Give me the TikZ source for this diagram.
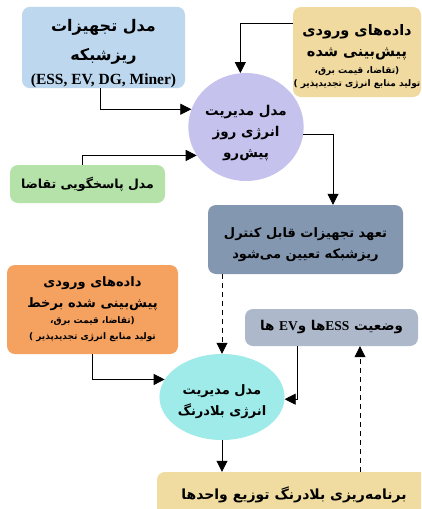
\documentclass[tikz,border=0pt]{standalone}
\usepackage{xcolor}
\usepackage{fontspec}
\setmainfont{Liberation Serif}
\newfontfamily\farsi[Script=Arabic]{DejaVu Sans}
\TeXXeTstate=1
\usepackage{tikz}
\usetikzlibrary{arrows.meta}
\usetikzlibrary{shapes.geometric}

\definecolor{devblue}{HTML}{BDD7EE}
\definecolor{fcyellow}{HTML}{F0DA9F}
\definecolor{damlilac}{HTML}{C6C2EE}
\definecolor{drgreen}{HTML}{B4E2A9}
\definecolor{comslate}{HTML}{8497B0}
\definecolor{rtorange}{HTML}{F5A261}
\definecolor{evsgray}{HTML}{ADB9CA}
\definecolor{rtmcyan}{HTML}{9EEBEA}
\definecolor{disyellow}{HTML}{F0DCA0}

\newcommand{\fa}[1]{{\farsi\beginR #1\endR}}
\newcommand{\lat}[1]{\beginL{\rmfamily #1}\endL}
\newcommand{\notesz}{\fontsize{9}{13}\selectfont}
\newcommand{\padtop}[1]{\rule{0pt}{#1}}

\begin{document}
\begin{tikzpicture}[x=1pt, y=-1pt,
  box/.style={rectangle, rounded corners=8pt, align=center, inner sep=0pt},
  blob/.style={ellipse, align=center, inner sep=0pt},
  txt/.style={font=\bfseries\fontsize{#1}{21}\selectfont},
  link/.style={-{Triangle[length=11pt, width=11pt]}, line width=0.8pt},
  gap/.style={dash pattern=on 5pt off 4pt}]
\clip (0, 0) rectangle (421, 509);
\fill [white] (0, 0) rectangle (421, 509);

% boxes and models
\node [box, fill=devblue, minimum width=163, minimum height=81,
  font=\bfseries\fontsize{16}{29}\selectfont] (DEV) at (103.5, 47.5)
  {\padtop{25pt}\fa{مدل تجهیزات}\\ \fa{ریزشبکه}\\[-5pt] \fontsize{15.5}{17}\selectfont(ESS, EV, DG, Miner)};
\node [box, fill=fcyellow, minimum width=128, minimum height=90, txt=14.5] (FC) at (357, 52)
  {\padtop{20pt}\fa{داده‌های ورودی}\\ \fa{پیش‌بینی شده}\\[-4pt] \notesz\fa{(تقاضا، قیمت برق،}\\[-8pt] \notesz\fa{تولید منابع انرژی تجدیدپذیر )}};
\node [blob, fill=damlilac, minimum width=112, minimum height=108, txt=13.5] (DAM) at (246, 127)
  {\padtop{23pt}\fa{مدل مدیریت}\\ \fa{انرژی روز}\\ \fa{پیش‌رو}};
\node [box, fill=drgreen, minimum width=155, minimum height=38, txt=12.5] (DR) at (87.5, 184)
  {\fa{مدل پاسخگویی تقاضا}};
\node [box, fill=comslate, minimum width=195, minimum height=69, txt=13] (COM) at (305.5, 239.5)
  {\padtop{20.5pt}\fa{تعهد تجهیزات قابل کنترل}\\ \fa{ریزشبکه تعیین می‌شود}};
\node [box, fill=rtorange, minimum width=171, minimum height=89, txt=13] (RTD) at (92.5, 309.5)
  {\fa{داده‌های ورودی}\\ \fa{پیش‌بینی شده برخط}\\[-5pt] \notesz\fa{(تقاضا، قیمت برق،}\\[-5pt] \notesz\fa{تولید منابع انرژی تجدیدپذیر )}};
\node [box, fill=evsgray, minimum width=173, minimum height=37, txt=13.5] (EVS) at (331.5, 327.5)
  {\fa{وضعیت \lat{ESS}ها و\lat{EV} ها}};
\node [blob, fill=rtmcyan, minimum width=100, minimum height=86, txt=13] (RTM) at (222, 397)
  {\padtop{19.5pt}\fa{مدل مدیریت}\\ \fa{انرژی بلادرنگ}};
\node [box, fill=disyellow, minimum width=274, minimum height=46, txt=14] (DIS) at (294, 495)
  {\fa{برنامه‌ریزی بلادرنگ توزیع واحدها}};

% connectors
\draw [link] ([xshift=-3.5pt]DEV.south) |- (DAM.162);
\draw [link] ([xshift=-5.5pt]DR.north) |- (DAM.210);
\draw [link] ([yshift=29pt]FC.west) -| (DAM.96);
\draw [link] (DAM.-7) -| ([xshift=27.5pt]COM.north);
\draw [link, gap] (RTM.north |- COM.south) -- (RTM.north);
\draw [link] (RTD.south) |- (RTM.163);
\draw [link] ([xshift=-34.5pt]EVS.south) |- (RTM.-2);
\draw [link, gap] ([xshift=66pt]DIS.north) -- ([xshift=28.5pt]EVS.south);
\draw [link] (RTM.south) -- (RTM.south |- DIS.north);
\end{tikzpicture}
\end{document}
